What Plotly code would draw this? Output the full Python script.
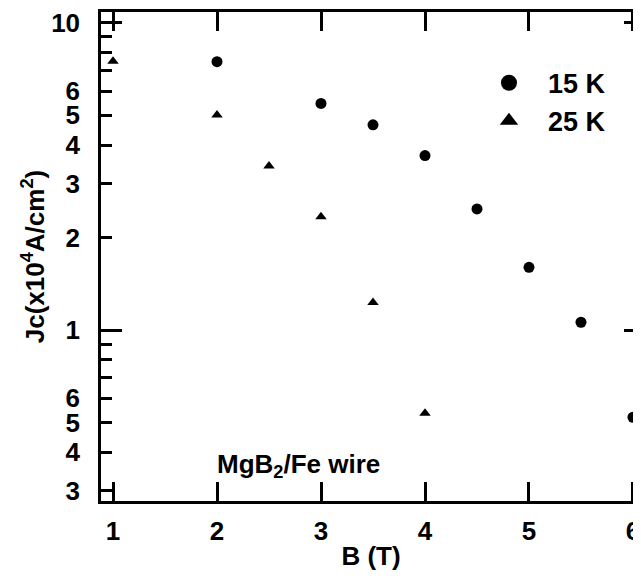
import plotly.graph_objects as go
import numpy as np

# Data
b_15k = [2, 3, 3.5, 4, 4.5, 5, 5.5, 6]
jc_15k = [7.48, 5.47, 4.66, 3.70, 2.48, 1.60, 1.06, 0.52]
b_25k = [1, 2, 2.5, 3, 3.5, 4]
jc_25k = [7.5, 5.01, 3.42, 2.34, 1.23, 0.536]

x_ticks = [1, 2, 3, 4, 5, 6]
y_tickvals = [0.3, 0.4, 0.5, 0.6, 1, 2, 3, 4, 5, 6, 10]
y_ticktext = ["3", "4", "5", "6", "1", "2", "3", "4", "5", "6", "10"]
y_minor_left = [0.7, 0.8, 0.9, 7, 8, 9]
y_long = [1, 10]
y_minor_right = [0.3, 0.4, 0.5, 0.6, 0.7, 0.8, 0.9, 2, 3, 4, 5, 6, 7, 8, 9]

FONT = "Liberation Sans, Arial, sans-serif"
LW = 2.5
yr = [np.log10(0.2775), 1.0356]
xr = [0.8846, 6.077]

fig = go.Figure()
fig.add_trace(go.Scatter(x=b_15k, y=jc_15k, mode="markers", showlegend=False,
                         marker=dict(symbol="circle", size=11, color="black")))
fig.add_trace(go.Scatter(x=b_25k, y=jc_25k, mode="markers", showlegend=False,
                         marker=dict(symbol="triangle-up", size=10, color="black")))
# legend entries
fig.add_trace(go.Scatter(x=[None], y=[None], mode="markers", name="15 K", legendgroup="a",
                         marker=dict(symbol="circle", size=18, color="black")))
fig.add_trace(go.Scatter(x=[None], y=[None], mode="markers", name="25 K", legendgroup="b",
                         marker=dict(symbol="triangle-up", size=18, color="black")))
# helper traces for extra axes
fig.add_trace(go.Scatter(x=[None], y=[None], yaxis="y2", showlegend=False, hoverinfo="skip"))
fig.add_trace(go.Scatter(x=[None], y=[None], yaxis="y3", showlegend=False, hoverinfo="skip"))

fig.update_layout(
    width=633, height=577,
    margin=dict(l=93, r=0, t=1, b=84),
    paper_bgcolor="white", plot_bgcolor="white",
    font=dict(family=FONT, size=26, color="black", weight="bold"),
    xaxis=dict(
        range=xr, tickvals=x_ticks, ticks="inside", ticklen=19, tickwidth=LW,
        tickcolor="black", showline=True, linewidth=LW, linecolor="black",
        mirror="ticks", showgrid=False, zeroline=False, ticklabelstandoff=5,
        ticklabeloverflow="allow",
        tickfont=dict(family=FONT, size=26, color="black", weight="bold"),
        title=dict(text="B (T)", standoff=2,
                   font=dict(family=FONT, size=26, color="black", weight="bold")),
    ),
    yaxis=dict(
        type="log", range=yr, tickmode="array", tickvals=y_tickvals, ticktext=y_ticktext,
        ticks="inside", ticklen=11, tickwidth=LW, tickcolor="black",
        showline=True, linewidth=LW, linecolor="black", mirror=False,
        showgrid=False, zeroline=False, ticklabelstandoff=13,
        ticklabeloverflow="allow",
        minor=dict(tickmode="array", tickvals=y_minor_left, ticks="inside", ticklen=11,
                   tickwidth=LW, tickcolor="black", showgrid=False),
        tickfont=dict(family=FONT, size=26, color="black", weight="bold"),
        title=dict(text="Jc(x10<sup>4</sup>A/cm<sup>2</sup>)", standoff=0,
                   font=dict(family=FONT, size=26, color="black", weight="bold")),
    ),
    yaxis2=dict(
        type="log", range=yr, overlaying="y", side="right", anchor="x",
        tickmode="array", tickvals=y_long, ticks="inside", ticklen=17, tickwidth=LW,
        tickcolor="black", showticklabels=False, showline=False, showgrid=False,
        zeroline=False,
        minor=dict(tickmode="array", tickvals=y_minor_right, ticks="inside", ticklen=7,
                   tickwidth=LW, tickcolor="black", showgrid=False),
    ),
    yaxis3=dict(
        type="log", range=yr, overlaying="y", side="left", anchor="x",
        tickmode="array", tickvals=y_long, ticks="inside", ticklen=21, tickwidth=LW,
        tickcolor="black", showticklabels=False, showline=False, showgrid=False,
        zeroline=False,
    ),
    legend=dict(x=0.6833, y=0.9045, xanchor="left", yanchor="top", itemwidth=68,
                bgcolor="rgba(0,0,0,0)", traceorder="grouped", tracegroupgap=0,
                font=dict(family=FONT, size=27, color="black", weight="bold")),
    annotations=[dict(text="MgB<sub>2</sub>/Fe wire", xref="paper", yref="paper",
                      x=0.212, y=0.072, xanchor="left", yanchor="middle",
                      showarrow=False,
                      font=dict(family=FONT, size=26, color="black", weight="bold"))],
)

fig.write_html("out.html")
